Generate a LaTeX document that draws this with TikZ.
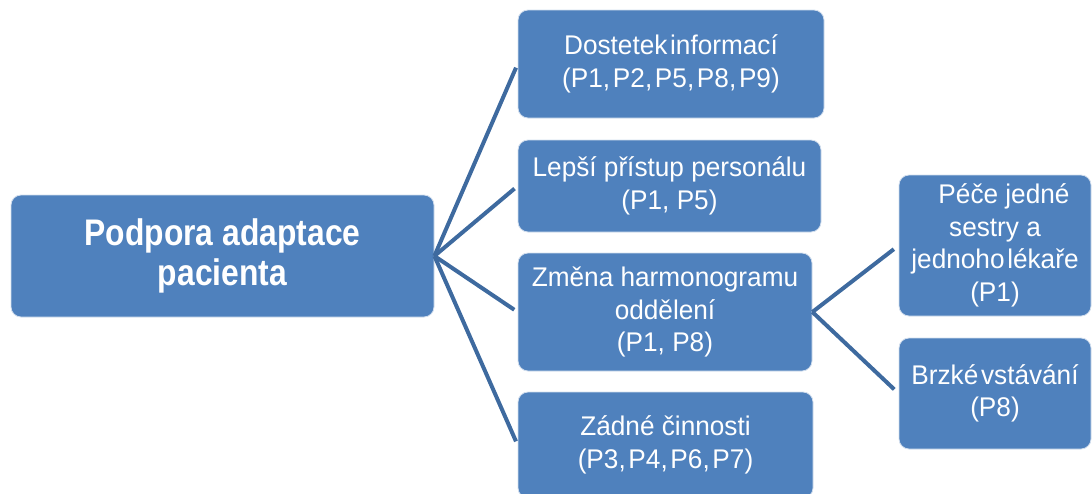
\documentclass[tikz,border=0pt]{standalone}
\usepackage{fontspec}
\setmainfont{Liberation Sans}
\newfontfamily\boxfont[FakeStretch=0.97]{Liberation Sans}
\newfontfamily\rootfont[FakeStretch=0.86]{Liberation Sans}
\definecolor{boxblue}{HTML}{4F81BD}
\definecolor{linkblue}{HTML}{3E6A9F}
% narrow word gap used in some labels
\newcommand{\narrowgap}{\hspace{0.1em}}
\begin{document}
\begin{tikzpicture}[x=1pt,y=-1pt,
  box/.style={rectangle, rounded corners=10pt, fill=boxblue, draw=white!75!boxblue,
    line width=0.8pt, text=white, align=center, inner sep=0pt,
    font=\boxfont\fontsize{27}{32.5}\selectfont},
  rootbox/.style={box, font=\rootfont\bfseries\fontsize{37}{40}\selectfont},
  link/.style={draw=linkblue, line width=4pt, shorten >=4pt}]
\useasboundingbox (0,0) rectangle (1092,493);
\clip (0,0) rectangle (1092,493);
% first level
\node[rootbox, minimum width=423, minimum height=122] (root) at (222.5,256)
  {Podpora adaptace\\pacienta};
\node[box, minimum width=306, minimum height=108] (info) at (671,64)
  {Dostetek\narrowgap informací\\(P1,\narrowgap P2,\narrowgap P5,\narrowgap P8,\narrowgap P9)};
\node[box, minimum width=303, minimum height=92] (staff) at (669.5,186)
  {Lepší přístup personálu\\(P1, P5)};
\node[box, minimum width=294, minimum height=118] (sched) at (665,312)
  {Změna harmonogramu\\oddělení\\(P1, P8)};
\node[box, minimum width=295, minimum height=106] (none) at (665.5,445)
  {Zádné činnosti\\(P3,\narrowgap P4,\narrowgap P6,\narrowgap P7)};
% second level
\node[box, minimum width=192, minimum height=141] (nurse) at (995,245.5)
  {\hspace*{18pt}Péče jedné\\sestry a\\jednoho\narrowgap lékaře\\(P1)};
\node[box, minimum width=192, minimum height=111] (early) at (995,393.5)
  {Brzké\narrowgap vstávání\\(P8)};
% connectors
\foreach \t in {info,staff,sched,none}
  \draw[link] (root.east) -- (\t.west);
\foreach \t in {nurse,early}
  \draw[link, shorten >=6pt] (sched.east) -- (\t.west);
\end{tikzpicture}
\end{document}
